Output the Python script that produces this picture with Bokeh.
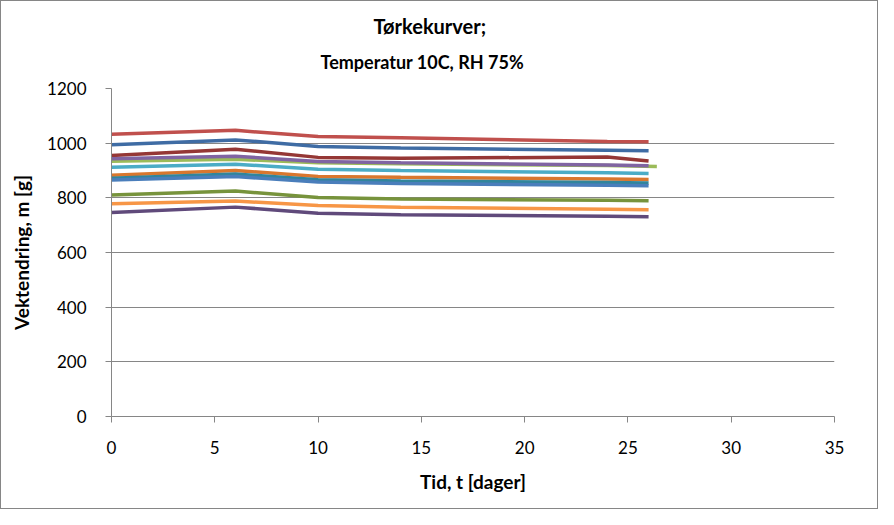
from bokeh.plotting import figure
from bokeh.models import Title, SingleIntervalTicker, Range1d
from bokeh.embed import file_html
from bokeh.resources import INLINE

# Time points (days)
t = [0, 6, 10, 14, 24, 26]
t_green = [-0.4, 6, 10, 14, 24, 26.4]

s_red = [1033, 1047, 1024, 1020, 1006, 1005]
s_blue_dark = [994, 1012, 988, 982, 974, 972]
s_darkred = [955, 978, 948, 945, 949, 935]
s_green = [933, 941, 928, 925, 918, 915]
s_purple = [943, 952, 933, 928, 920, 917]
s_cyan = [912, 923, 905, 900, 892, 889]
s_orange = [883, 900, 878, 875, 869, 867]
s_teal = [872, 887, 866, 862, 856, 854]
s_blue = [865, 878, 858, 852, 846, 844]
s_olive = [810, 825, 801, 796, 791, 789]
s_lorange = [778, 788, 772, 766, 758, 756]
s_dpurple = [746, 766, 744, 738, 733, 731]

series = [
    (t, s_red, "#C0504D"),
    (t, s_blue_dark, "#3F6CA4"),
    (t_green, s_green, "#9BBB59"),
    (t, s_darkred, "#953735"),
    (t, s_purple, "#8064A2"),
    (t, s_cyan, "#4BACC6"),
    (t, s_orange, "#D9772E"),
    (t, s_teal, "#31859C"),
    (t, s_blue, "#4A7EBB"),
    (t, s_olive, "#77933C"),
    (t, s_lorange, "#F79646"),
    (t, s_dpurple, "#604A7B"),
]

FONT = "Lato"

p = figure(width=878, height=509, output_backend="svg", toolbar_location=None,
           x_range=Range1d(0, 35), y_range=Range1d(0, 1200),
           min_border_left=110, min_border_right=45, min_border_bottom=94,
           min_border_top=87)
p.styles = {"border": "1px solid #868686"}
p.outline_line_color = None

for xs, ys, c in series:
    p.line(xs, ys, line_color=c, line_width=3.5)

p.xaxis.ticker = SingleIntervalTicker(interval=5)
p.yaxis.ticker = SingleIntervalTicker(interval=200)
p.xgrid.grid_line_color = None
p.ygrid.grid_line_color = "#868686"
p.ygrid.grid_line_width = 1

for ax in (p.xaxis[0], p.yaxis[0]):
    ax.axis_line_color = "#868686"
    ax.major_tick_line_color = "#868686"
    ax.major_tick_out = 6
    ax.major_tick_in = 0
    ax.minor_tick_line_color = None
    ax.major_label_text_font = FONT
    ax.major_label_text_font_size = "17px"
    ax.major_label_text_color = "#000000"
    ax.axis_label_text_font = FONT
    ax.axis_label_text_font_size = "19px"
    ax.axis_label_text_font_style = "bold"
    ax.axis_label_text_color = "#000000"

p.xaxis.axis_label = "Tid, t [dager]"
p.yaxis.axis_label = "Vektendring, m [g]"
p.xaxis.major_label_standoff = 18
p.yaxis.major_label_standoff = 19
p.xaxis.axis_label_standoff = 13
p.yaxis.axis_label_standoff = 11

p.add_layout(Title(text="Temperatur 10C, RH 75%", text_font=FONT, text_font_size="18px",
                   text_font_style="bold", text_color="#000000",
                   align="left", offset=209, standoff=31), "above")
p.add_layout(Title(text="Tørkekurver;", text_font=FONT, text_font_size="20px",
                   text_font_style="bold", text_color="#000000",
                   align="left", offset=262, standoff=-9), "above")

open("out.html", "w").write(file_html(p, INLINE))
